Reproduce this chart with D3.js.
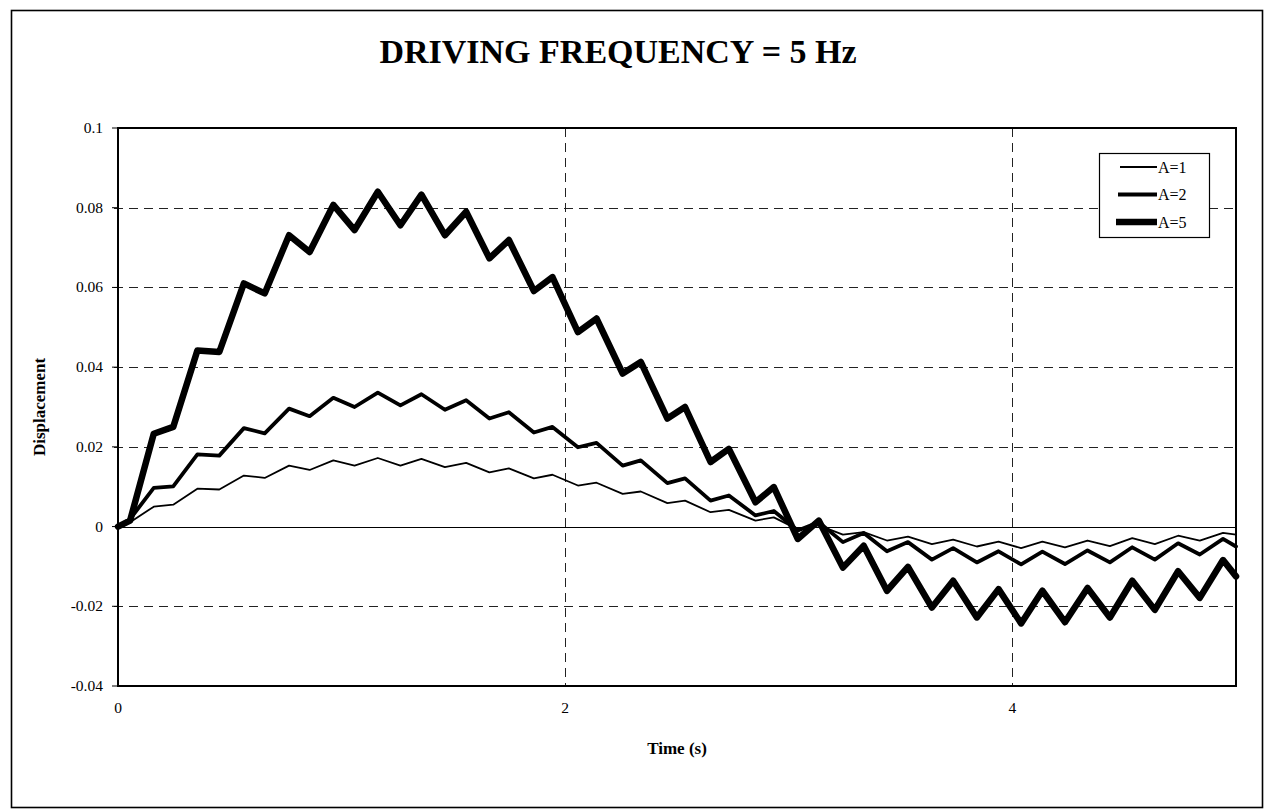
<!DOCTYPE html>
<html>
<head>
<meta charset="utf-8">
<script src="https://cdn.jsdelivr.net/npm/d3@7"></script>
<style>
    body { margin: 0; background: #fff; }
    svg { display: block; }
    .tick-label { font-family: "Liberation Serif", "Times New Roman", serif; font-size: 15.5px; fill: #000; }
    .legend-label { font-family: "Liberation Serif", "Times New Roman", serif; font-size: 16px; fill: #000; }
    .axis-title { font-family: "Liberation Serif", "Times New Roman", serif; font-size: 17px; font-weight: bold; fill: #000; }
    .title { font-family: "Liberation Serif", "Times New Roman", serif; font-size: 34px; font-weight: bold; fill: #000; }
</style>
</head>
<body>
<svg id="chart" width="1265" height="810"></svg>
<script>
// time samples (s), shared by the three runs
const time = [0, 0.054, 0.16, 0.247, 0.355, 0.453, 0.563, 0.656, 0.765, 0.857,
    0.963, 1.058, 1.162, 1.263, 1.357, 1.462, 1.557, 1.661, 1.748, 1.86,
    1.943, 2.057, 2.14, 2.257, 2.338, 2.457, 2.536, 2.65, 2.732, 2.851,
    2.933, 3.04, 3.134, 3.242, 3.335, 3.439, 3.533, 3.64, 3.735, 3.841,
    3.938, 4.039, 4.134, 4.235, 4.336, 4.436, 4.536, 4.637, 4.741, 4.838,
    4.942, 5.0];

// displacement for each amplitude
const dispA1 = [0, 0.0011, 0.005, 0.0055, 0.0095, 0.0093, 0.0128, 0.0122, 0.0153, 0.0142,
    0.0166, 0.0153, 0.0172, 0.0153, 0.017, 0.0149, 0.016, 0.0136, 0.0146, 0.0121,
    0.013, 0.0103, 0.011, 0.0082, 0.0088, 0.0059, 0.0065, 0.0036, 0.0042, 0.0015,
    0.0023, -0.0007, 0.0003, -0.002, -0.0014, -0.0035, -0.0025, -0.0044, -0.0033, -0.005,
    -0.0038, -0.0054, -0.0038, -0.0052, -0.0035, -0.0049, -0.0029, -0.0044, -0.0023, -0.0035,
    -0.0016, -0.002];

const dispA2 = [0, 0.0019, 0.0097, 0.0101, 0.0181, 0.0178, 0.0247, 0.0234, 0.0296, 0.0277,
    0.0323, 0.03, 0.0336, 0.0304, 0.0332, 0.0293, 0.0317, 0.0271, 0.0287, 0.0236,
    0.025, 0.0199, 0.021, 0.0153, 0.0166, 0.0109, 0.0121, 0.0065, 0.0078, 0.0028,
    0.0039, -0.001, 0.0011, -0.0039, -0.0016, -0.0062, -0.0039, -0.0083, -0.0054, -0.009,
    -0.0062, -0.0095, -0.0063, -0.0094, -0.006, -0.009, -0.0052, -0.0083, -0.0042, -0.007,
    -0.0031, -0.005];

const dispA5 = [0, 0.0015, 0.0233, 0.025, 0.0442, 0.0438, 0.061, 0.0585, 0.0731, 0.0689,
    0.0807, 0.0744, 0.084, 0.0756, 0.0833, 0.0731, 0.079, 0.0673, 0.0719, 0.0591,
    0.0626, 0.0488, 0.0522, 0.0384, 0.0413, 0.0271, 0.03, 0.0162, 0.0195, 0.0061,
    0.0099, -0.0031, 0.0015, -0.0103, -0.0048, -0.0161, -0.0101, -0.0203, -0.0136, -0.0228,
    -0.0157, -0.0243, -0.0161, -0.024, -0.0154, -0.0228, -0.0136, -0.0209, -0.0112, -0.0179,
    -0.0084, -0.0125];

const seriesNames = ["A=1", "A=2", "A=5"];
const xTicks = [0, 2, 4];
const yTicks = [-0.04, -0.02, 0, 0.02, 0.04, 0.06, 0.08, 0.1];

const strokeWidths = [1.8, 3.8, 6.5];

const svg = d3.select("#chart");

// outer frame
svg.append("rect")
    .attr("x", 11.5).attr("y", 10.5)
    .attr("width", 1251).attr("height", 797)
    .attr("fill", "none").attr("stroke", "#000").attr("stroke-width", 1.6);

const margin = {left: 118, right: 1236, top: 128, bottom: 686};

const x = d3.scaleLinear().domain([0, 5]).range([margin.left, margin.right]);
const y = d3.scaleLinear().domain([-0.04, 0.1]).range([margin.bottom, margin.top]);

// grid lines
const grid = svg.append("g");
grid.selectAll(".hgrid")
    .data(yTicks.filter(d => d !== 0 && d !== 0.1 && d !== -0.04))
    .enter().append("line")
    .attr("x1", x(0) - 4).attr("x2", x(5))
    .attr("y1", d => Math.round(y(d)) + 0.5).attr("y2", d => Math.round(y(d)) + 0.5)
    .attr("stroke", "#222").attr("stroke-width", 1)
    .attr("stroke-dasharray", "9,6");

grid.selectAll(".vgrid")
    .data(xTicks.filter(d => d !== 0))
    .enter().append("line")
    .attr("x1", d => Math.round(x(d)) + 0.5).attr("x2", d => Math.round(x(d)) + 0.5)
    .attr("y1", y(0.1)).attr("y2", y(-0.04))
    .attr("stroke", "#222").attr("stroke-width", 1)
    .attr("stroke-dasharray", "9,6");

// zero line
svg.append("line")
    .attr("x1", x(0)).attr("x2", x(5))
    .attr("y1", Math.round(y(0)) + 0.5).attr("y2", Math.round(y(0)) + 0.5)
    .attr("stroke", "#000").attr("stroke-width", 1);

// plot frame
svg.append("rect")
    .attr("x", x(0)).attr("y", y(0.1))
    .attr("width", x(5) - x(0)).attr("height", y(-0.04) - y(0.1))
    .attr("fill", "none").attr("stroke", "#000").attr("stroke-width", 2);

// y ticks
const fmt = d => d === 0 ? "0" : String(+d.toFixed(2));
svg.append("g").selectAll("line")
    .data(yTicks)
    .enter().append("line")
    .attr("x1", x(0) - 6).attr("x2", x(0))
    .attr("y1", d => y(d)).attr("y2", d => y(d))
    .attr("stroke", "#000").attr("stroke-width", 1);

svg.append("g").selectAll("text")
    .data(yTicks)
    .enter().append("text")
    .attr("class", "tick-label")
    .attr("x", x(0) - 15)
    .attr("y", d => y(d) + 5)
    .attr("text-anchor", "end")
    .text(fmt);

svg.append("g").selectAll("text")
    .data(xTicks)
    .enter().append("text")
    .attr("class", "tick-label")
    .attr("x", d => x(d))
    .attr("y", y(-0.04) + 27)
    .attr("text-anchor", "middle")
    .text(d => d);

// axis titles
svg.append("text")
    .attr("class", "axis-title")
    .attr("x", (x(0) + x(5)) / 2)
    .attr("y", 754)
    .attr("text-anchor", "middle")
    .text("Time (s)");

svg.append("text")
    .attr("class", "axis-title")
    .attr("transform", `translate(45, ${(y(0.1) + y(-0.04)) / 2}) rotate(-90)`)
    .attr("text-anchor", "middle")
    .text("Displacement");

// chart title
svg.append("text")
    .attr("class", "title")
    .attr("x", 618)
    .attr("y", 63)
    .attr("text-anchor", "middle")
    .text("DRIVING FREQUENCY = 5 Hz");

// the three curves
const line = d3.line()
    .x((d, i) => x(time[i]))
    .y(d => y(d));

const allSeries = [dispA1, dispA2, dispA5];

svg.append("g").selectAll("path")
    .data(allSeries)
    .enter().append("path")
    .attr("d", line)
    .attr("fill", "none")
    .attr("stroke", "#000")
    .attr("stroke-width", (d, i) => strokeWidths[i])
    .attr("stroke-linejoin", "round")
    .attr("stroke-linecap", "round");

// legend
const legend = svg.append("g").attr("transform", "translate(1099, 153)");
legend.append("rect")
    .attr("x", 0.5).attr("y", 0.5)
    .attr("width", 110).attr("height", 84)
    .attr("fill", "#fff").attr("stroke", "#000").attr("stroke-width", 1.2);

const items = legend.selectAll(".item")
    .data(seriesNames)
    .enter().append("g")
    .attr("transform", (d, i) => `translate(0, ${14 + i * 27.5})`);

items.append("line")
    .attr("x1", (d, i) => 21 - i * 2).attr("x2", 58)
    .attr("y1", 0).attr("y2", 0)
    .attr("stroke", "#000")
    .attr("stroke-width", (d, i) => strokeWidths[i]);

items.append("text")
    .attr("class", "legend-label")
    .attr("x", 59)
    .attr("y", 5.5)
    .text(d => d);
</script>
</body>
</html>
